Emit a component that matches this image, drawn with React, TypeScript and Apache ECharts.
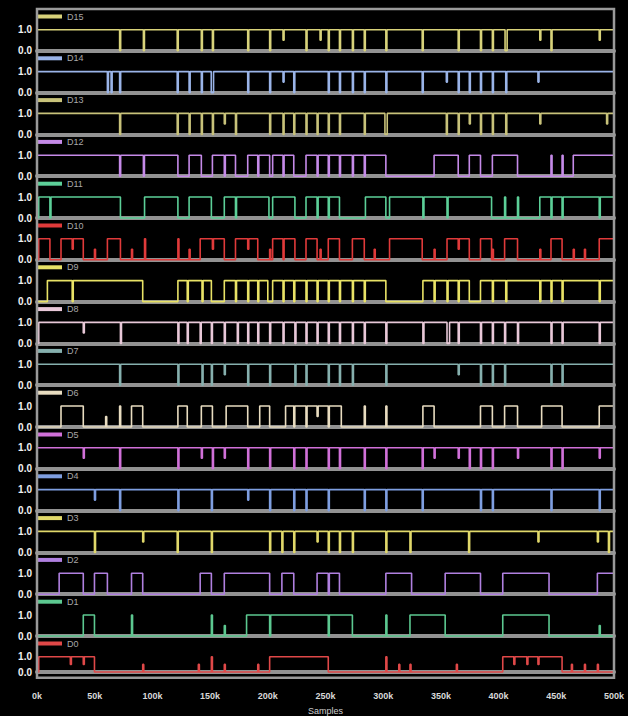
import React, { useEffect, useRef } from "react";
import * as echarts from "echarts";

// ---- channel names & colours ----
const CHANNELS = ["D15", "D14", "D13", "D12", "D11", "D10", "D9", "D8", "D7", "D6", "D5", "D4", "D3", "D2", "D1", "D0"];
const COLORS = ["#d8d27a", "#9ab4e8", "#c8c27a", "#c58ae8", "#5ccf98", "#e03a3a", "#e8e266", "#e8c8d8",
  "#86b0ae", "#e8dcc0", "#d070d8", "#7e9ee0", "#e0d86a", "#b080e0", "#5cc890", "#e04848"];
// idle level of each channel (1 = high, 0 = low)
const BASE = [1, 1, 1, 0, 0, 0, 0, 1, 1, 0, 1, 1, 1, 0, 0, 0];

// spans: intervals where the channel sits at the opposite level
const D15_SPANS = [[405.6, 407.4]];
const D14_SPANS = [[151, 153]];
const D13_SPANS = [[301.5, 303.5]];
const D12_SPANS = [[0, 122.1], [131.8, 142.4], [152, 172], [182.6, 201.6], [204.2, 222.5], [233.1, 302.3], [344.1, 365], [374.6, 384.3], [394.6, 416.4], [464.7, 500]];
const D11_SPANS = [[1.5, 72.3], [93.2, 122.1], [131.8, 151.1], [162.3, 201], [204.2, 223.5], [233.1, 262.1], [284.6, 302.3], [305.5, 393.9], [435.7, 500]];
const D10_SPANS = [[1.5, 11.2], [20.8, 40.1], [61, 72.3], [141.4, 162.3], [172, 191.3], [204.2, 223.5], [233.1, 242.7], [252.4, 262.1], [273.3, 283.6], [305.5, 333.8], [355.3, 374.6], [384.3, 393.9], [405.2, 416.4], [445.4, 455], [487.2, 500]];
const D9_SPANS = [[9, 91.6], [122.1, 151.1], [162.3, 200], [204.2, 302.3], [334.4, 374.6], [384.3, 500]];
const D8_SPANS = [[0, 1.5], [355.3, 357.5]];
const D7_SPANS = [];
const D6_SPANS = [[20.8, 40.1], [81.9, 91.6], [122.1, 130.2], [142.4, 152], [163.9, 182.6], [193, 201.6], [215.4, 263.7], [334.4, 344.1], [384.3, 394.6], [405.2, 416.4], [437.3, 455], [487.2, 500]];
const D5_SPANS = [];
const D4_SPANS = [];
const D3_SPANS = [];
const D2_SPANS = [[19.2, 40.1], [49.8, 61], [81.9, 91.6], [141.4, 151.1], [162.3, 201.6], [212.2, 222.5], [242.7, 262.1], [302.3, 324.6], [353.7, 384.3], [403.6, 443.7], [485.6, 500]];
const D1_SPANS = [[40.1, 49.8], [181.6, 273.3], [323.2, 353.7], [403.6, 443.7]];
const D0_SPANS = [[1.5, 49.8], [201.6, 252.4], [403.6, 455]];

// pulses: narrow full-swing toggles
const D15_PULSES = [71.6, 92.2, 121.5, 142.4, 152, 182.6, 201.6, 233.1, 252.4, 262.1, 273.3, 283.6, 302.3, 333.8, 365, 384.3, 394.6, 445.4];
const D14_PULSES = [61, 64.2, 71.6, 121.5, 131.8, 142.4, 182.6, 201.6, 222.5, 252.4, 262.1, 273.3, 283.6, 302.3, 333.8, 365, 374.6, 384.3, 394.6, 406.2];
const D13_PULSES = [71.6, 121.5, 131.8, 142.4, 152, 172, 201.6, 213.2, 222.5, 233.1, 242.7, 252.4, 262.1, 283.6, 354.7, 365, 384.3, 394.6, 406.2];
const D12_PULSES = [71.6, 92.2, 162.3, 191.3, 213.2, 242.7, 252.4, 262.1, 273.3, 283.6, 445.4, 455];
const D11_PULSES = [11.2, 172, 242.7, 252.4, 334.4, 355.3, 405.2, 416.4, 445.4, 455, 487.2];
const D10_PULSES = [93.2, 122.1, 213.2];
const D9_PULSES = [30.5, 130.2, 143, 172, 182.6, 191.3, 213.2, 222.5, 233.1, 242.7, 252.4, 262.1, 273.3, 283.6, 344.1, 355.3, 365, 394.6, 406.2, 435.7, 445.4, 455, 487.2];
const D8_PULSES = [72.3, 122.1, 130.2, 141.4, 151.1, 162.3, 173.6, 182.6, 191.3, 201.6, 213.2, 223.5, 233.1, 242.7, 252.4, 262.1, 273.3, 283.6, 302.3, 334.4, 365, 384.3, 394.6, 405.2, 416.4, 445.4, 455, 487.2];
const D7_PULSES = [71.6, 122.1, 143, 151.1, 182.6, 201.6, 223.5, 233.1, 252.4, 262.1, 273.3, 302.3, 384.3, 394.6, 405.2, 445.4, 455];
const D6_PULSES = [71.6, 222.5, 233.1, 252.4, 283.6, 302.3];
const D5_PULSES = [71.6, 122.1, 152, 182.6, 201.6, 222.5, 233.1, 252.4, 262.1, 283.6, 302.3, 333.8, 374.6, 384.3, 394.6, 445.4, 455];
const D4_PULSES = [71.6, 122.1, 151.1, 201.6, 222.5, 233.1, 252.4, 283.6, 302.3, 333.8, 384.3, 394.6, 445.4, 487.2];
const D3_PULSES = [49.8, 121.5, 151.1, 201.6, 212.2, 222.5, 252.4, 262.1, 273.3, 302.3, 323.2, 374, 495.2];
const D2_PULSES = [252.4];
const D1_PULSES = [81.9, 151.1, 201.6, 252.4, 302.3];
const D0_PULSES = [151.1, 302.3];

// glitches: narrow half-swing spikes
const D15_GLITCHES = [213.2, 245.3, 435.7, 487.2];
const D14_GLITCHES = [213.2, 354.7, 434.1];
const D13_GLITCHES = [162.3, 374.6, 435.7, 493.6];
const D12_GLITCHES = [];
const D11_GLITCHES = [];
const D10_GLITCHES = [30.5, 49.8, 81.9, 131.8, 152, 182.6, 201.6, 245.3, 292.2, 344.1, 365, 394.6, 435.7, 464.7, 474.4];
const D9_GLITCHES = [];
const D8_GLITCHES = [40.1];
const D7_GLITCHES = [162.3, 365];
const D6_GLITCHES = [59.5, 242.7];
const D5_GLITCHES = [40.1, 142.4, 162.3, 344.1, 365, 416.4, 487.2];
const D4_GLITCHES = [49.8, 182.6];
const D3_GLITCHES = [91.6, 242.7, 434.1, 485.6];
const D2_GLITCHES = [];
const D1_GLITCHES = [162.3, 487.2];
const D0_GLITCHES = [28.9, 40.1, 91.6, 139.8, 162.3, 191.3, 313.5, 323.2, 363.4, 413.2, 424.5, 434.1, 463.1, 474.4, 485.6];

const SPANS = [D15_SPANS, D14_SPANS, D13_SPANS, D12_SPANS, D11_SPANS, D10_SPANS, D9_SPANS, D8_SPANS, D7_SPANS, D6_SPANS, D5_SPANS, D4_SPANS, D3_SPANS, D2_SPANS, D1_SPANS, D0_SPANS];
const PULSES = [D15_PULSES, D14_PULSES, D13_PULSES, D12_PULSES, D11_PULSES, D10_PULSES, D9_PULSES, D8_PULSES, D7_PULSES, D6_PULSES, D5_PULSES, D4_PULSES, D3_PULSES, D2_PULSES, D1_PULSES, D0_PULSES];
const GLITCHES = [D15_GLITCHES, D14_GLITCHES, D13_GLITCHES, D12_GLITCHES, D11_GLITCHES, D10_GLITCHES, D9_GLITCHES, D8_GLITCHES, D7_GLITCHES, D6_GLITCHES, D5_GLITCHES, D4_GLITCHES, D3_GLITCHES, D2_GLITCHES, D1_GLITCHES, D0_GLITCHES];

// x axis
const X_MIN = 0;
const X_MAX = 500;
const X_STEP = 50;
const X_UNIT = "k";
const X_NAME = "Samples";

function buildWave(base: number, spans: number[][], pulses: number[], glitches: number[]) {
  const W = 0.9;
  const set = new Set<number>([X_MIN, X_MAX]);
  spans.forEach(([a, b]) => { set.add(a); set.add(b); });
  pulses.forEach((t) => { set.add(t); set.add(t + W); });
  glitches.forEach((t) => { set.add(t); set.add(t + W); });
  const xs = Array.from(set).filter((x) => x >= X_MIN && x <= X_MAX).sort((a, b) => a - b);
  const level = (t: number) => {
    let l = spans.some(([a, b]) => t >= a && t < b) ? 1 - base : base;
    if (pulses.some((p) => t >= p && t < p + W)) l = 1 - l;
    if (glitches.some((g) => t >= g && t < g + W)) l = 0.5;
    return l;
  };
  const data: number[][] = [];
  for (let k = 0; k < xs.length - 1; k++) {
    const l = level((xs[k] + xs[k + 1]) / 2);
    data.push([xs[k], l], [xs[k + 1], l]);
  }
  return data;
}

export default function App() {
  const ref = useRef<HTMLDivElement>(null);
  useEffect(() => {
    if (!ref.current) return;
    const chart = echarts.init(ref.current, undefined, { renderer: "svg" });
    const left = 37;
    const right = 614;
    const top0 = 9;
    const rowH = 41.8;
    const amp = 21;
    const n = CHANNELS.length;

    const grids: any[] = [];
    const xAxes: any[] = [];
    const yAxes: any[] = [];
    const series: any[] = [];
    const legends: any[] = [];

    CHANNELS.forEach((name, i) => {
      const baseline = top0 + rowH * (i + 1);
      const last = i === n - 1;
      grids.push({ left, width: right - left, top: baseline - amp, height: amp });
      xAxes.push({
        gridIndex: i,
        type: "value",
        min: X_MIN,
        max: X_MAX,
        interval: X_STEP,
        z: 3,
        axisLine: { show: true, lineStyle: { color: "rgba(172,172,172,0.85)", width: 4 } },
        axisTick: { show: false },
        splitLine: { show: false },
        axisLabel: last
          ? { show: true, color: "#d8d8d8", fontSize: 9, fontWeight: "bold", margin: 19,
              formatter: (v: number) => `${v}${X_UNIT}` }
          : { show: false },
        name: last ? X_NAME : "",
        nameLocation: "middle",
        nameGap: 34,
        nameTextStyle: { color: "#cfcfcf", fontSize: 9 },
      });
      yAxes.push({
        gridIndex: i,
        type: "value",
        min: 0,
        max: 1,
        interval: 1,
        axisLine: { show: false },
        axisTick: { show: false },
        splitLine: { show: false },
        axisLabel: { color: "#f2f2f2", fontSize: 10, fontWeight: "bold", margin: 5,
          formatter: (v: number) => v.toFixed(1) },
      });
      series.push({
        name,
        type: "line",
        xAxisIndex: i,
        yAxisIndex: i,
        data: buildWave(BASE[i], SPANS[i], PULSES[i], GLITCHES[i]),
        showSymbol: false,
        symbol: "none",
        clip: false,
        silent: true,
        color: COLORS[i],
        lineStyle: { color: COLORS[i], width: 1.6 },
      });
      legends.push({
        data: [name],
        left,
        top: top0 + rowH * i + 3,
        padding: 0,
        icon: "rect",
        itemWidth: 25,
        itemHeight: 4,
        itemGap: 4,
        selectedMode: false,
        textStyle: { color: "#a8a8a8", fontSize: 9 },
      });
    });

    chart.setOption({
      animation: false,
      backgroundColor: "#000000",
      grid: grids,
      xAxis: xAxes,
      yAxis: yAxes,
      series,
      legend: legends,
      graphic: [
        {
          type: "rect",
          shape: { x: left, y: top0, width: right - left, height: rowH * n },
          style: { fill: "none", stroke: "#9a9a9a", lineWidth: 2.5 },
          z: 10,
        },
      ],
    });
    return () => chart.dispose();
  }, []);
  return (
    <div
      ref={ref}
      style={{ position: "fixed", left: 0, top: 0, width: 628, height: 716, background: "#000" }}
    />
  );
}
